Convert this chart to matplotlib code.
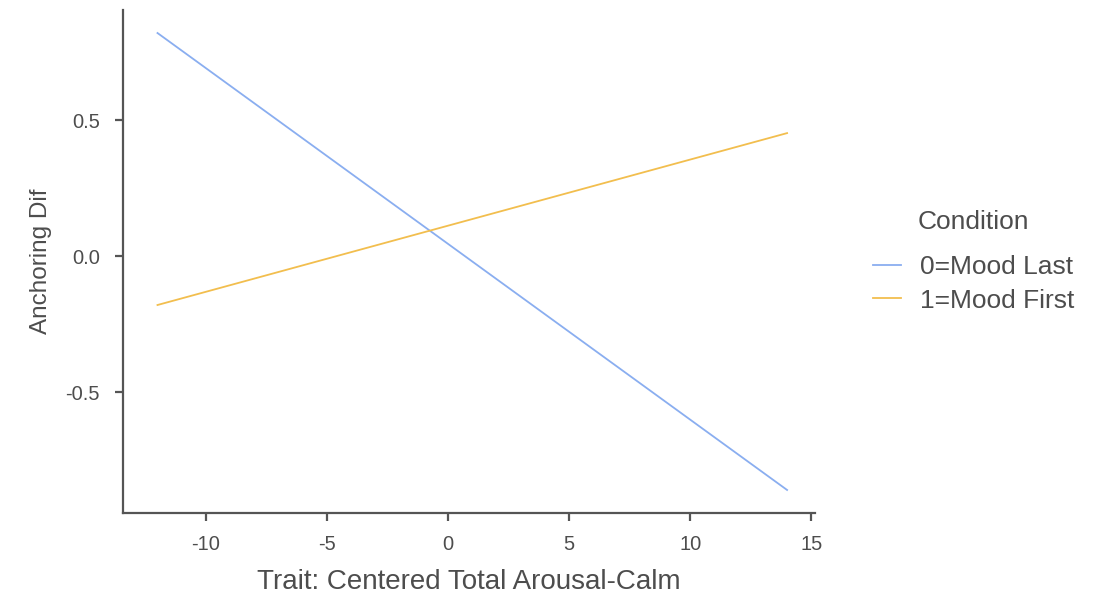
#!/usr/bin/env python3
import matplotlib

matplotlib.use("Agg")
from matplotlib import pyplot as plt

plt.rcParams["font.family"] = ["Liberation Sans", "DejaVu Sans"]

# simple slopes: endpoints of each fitted line
trait = [-12, 14]
mood_last = [0.82, -0.86]
mood_first = [-0.18, 0.452]

conditions = ["0=Mood Last", "1=Mood First"]
colors = ["#8aaef0", "#f2be4e"]

xticks = [-10, -5, 0, 5, 10, 15]
yticks = [-0.5, 0.0, 0.5]

GREY = "#4d4d4d"


def main():
    fig = plt.figure(figsize=(11.17, 5.98), dpi=100)
    ax = fig.add_axes([0.110, 0.142, 0.620, 0.841])

    ax.plot(trait, mood_last, color=colors[0], lw=1.3, label=conditions[0])
    ax.plot(trait, mood_first, color=colors[1], lw=1.3, label=conditions[1])

    ax.set_xlim(-13.43, 15.17)
    ax.set_ylim(-0.945, 0.904)
    ax.set_xticks(xticks)
    ax.set_xticklabels([str(t) for t in xticks])
    ax.set_yticks(yticks)
    ax.set_yticklabels(["-0.5", "0.0", "0.5"])

    for side in ["top", "right"]:
        ax.spines[side].set_visible(False)
    for side in ["left", "bottom"]:
        ax.spines[side].set_color("#555555")
        ax.spines[side].set_linewidth(1.6)

    ax.tick_params(colors="#555555", labelcolor=GREY, labelsize=14.5,
                   length=5.5, width=1.6)
    ax.tick_params(axis="y", pad=11)
    ax.tick_params(axis="x", pad=10)

    ax.set_xlabel("Trait: Centered Total Arousal-Calm", fontsize=20,
                  color=GREY, labelpad=11)
    ax.set_ylabel("Anchoring Dif", fontsize=17.5, color=GREY, labelpad=10)

    leg = fig.legend(
        loc="upper left",
        bbox_to_anchor=(0.782, 0.573),
        frameon=False,
        fontsize=19,
        handlelength=1.05,
        handletextpad=0.7,
        labelspacing=0.35,
        borderaxespad=0,
        borderpad=0,
    )
    for text in leg.get_texts():
        text.set_color(GREY)
    fig.text(918 / 1117, 1 - 222 / 598, "Condition", fontsize=19,
             color=GREY, ha="left", va="center")

    fig.savefig("out.png", dpi=100)
    plt.close(fig)


if __name__ == "__main__":
    main()
